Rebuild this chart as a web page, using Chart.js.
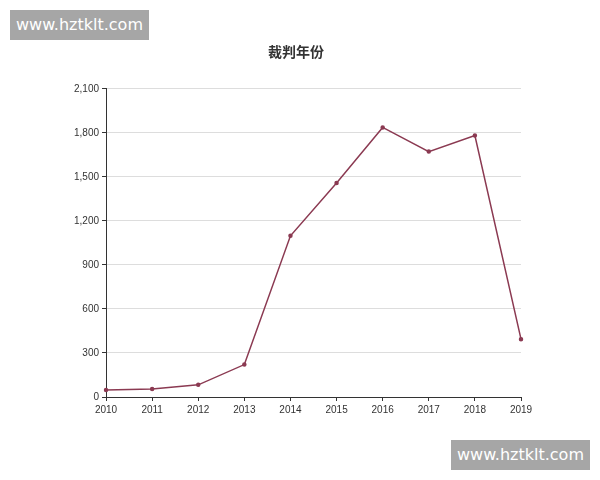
<!DOCTYPE html>
<html>
<head>
<meta charset="utf-8">
<script src="https://cdn.jsdelivr.net/npm/chart.js@4/dist/chart.umd.min.js"></script>
<style>
  body { margin: 0; background: #fff; }
  #wrap { position: relative; width: 600px; height: 480px; }
  .mark { position: absolute; background: #a6a6a6; color: #fff; font: 16px "DejaVu Sans", sans-serif;
          width: 139px; height: 30px; line-height: 30px; text-align: center; }
</style>
</head>
<body>
<div id="wrap">
  <canvas id="c" width="600" height="480"></canvas>
  <div class="mark" style="left:10px;top:10px">www.hztklt.com</div>
  <div class="mark" style="left:451px;top:440px">www.hztklt.com</div>
</div>
<script>
// judgment counts per year
const years = ['2010', '2011', '2012', '2013', '2014', '2015', '2016', '2017', '2018', '2019'];
const counts = [48, 55, 83, 221, 1098, 1458, 1837, 1672, 1782, 394];

new Chart(document.getElementById('c'), {
  type: 'line',
  data: {
    labels: years,
    datasets: [{
      data: counts,
      borderColor: '#8b3a52',
      backgroundColor: '#8b3a52',
      borderWidth: 1.5,
      pointRadius: 1.5,
      tension: 0
    }]
  },
  options: {
    responsive: false,
    animation: false,
    layout: { padding: { left: 71, right: 79, top: 43, bottom: 61 } },
    plugins: {
      legend: { display: false },
      title: {
        display: true, text: '裁判年份', color: '#333',
        font: { size: 14, weight: 'bold', family: '"Noto Sans CJK SC"' },
        padding: { bottom: 29 }
      }
    },
    scales: {
      x: {
        offset: false,
        grid: { display: true, drawOnChartArea: false, tickColor: '#333', tickLength: 4 },
        border: { color: '#333' },
        ticks: { color: '#333', font: { size: 10 }, maxRotation: 0 }
      },
      y: {
        min: 0, max: 2100,
        ticks: { stepSize: 300, color: '#333', font: { size: 10 } },
        grid: { color: '#ddd', tickColor: '#333', tickLength: 4 },
        border: { color: '#333' }
      }
    }
  }
});
</script>
</body>
</html>
